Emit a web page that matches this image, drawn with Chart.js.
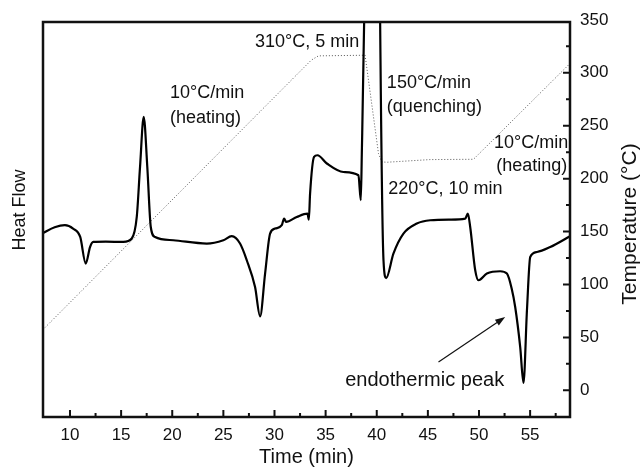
<!DOCTYPE html>
<html>
<head>
<meta charset="utf-8">
<script src="https://cdn.jsdelivr.net/npm/chart.js@4.4.1/dist/chart.umd.min.js"></script>
<style>
  html, body { margin: 0; padding: 0; background: #fff; }
  #wrap { width: 644px; height: 471px; }
</style>
</head>
<body>
<div id="wrap"><canvas id="dsc" width="644" height="471"></canvas></div>
<script>
// heat flow trace (arbitrary units, read against the temperature scale)
const hfTime = [7.36, 8.5, 9.5, 10.3, 11.0, 11.54, 11.96, 12.28, 13.5, 15.22,
  16.04, 16.53, 16.85, 17.21, 17.56, 17.90, 18.32, 20.11, 23.38, 25.0,
  25.82, 26.63, 27.29, 28.10, 28.59, 29.08, 29.57, 30.06, 30.71, 30.94,
  31.13, 32.18, 33.22, 33.36, 33.48, 33.87, 34.20, 35.12, 36.74, 38.21,
  38.44, 38.54, 38.77, 38.85, 40.28, 40.33, 40.66, 40.92, 41.63, 42.61,
  43.92, 45.23, 47.18, 48.65, 48.91, 49.14, 49.63, 49.95, 50.77, 52.07,
  52.73, 53.2, 53.54, 54.03, 54.35, 54.69, 55.01, 55.67, 56.97, 58.9];
const hfValue = [148.7, 154, 156, 152.8, 144.9, 119.8, 135.4, 140.2, 140.5, 140.2,
  143.4, 163.8, 211.1, 258.3, 211.1, 154.3, 144.9, 141.8, 138.7, 141.8,
  145.6, 138.7, 122.9, 97.6, 69.9, 110.3, 148.1, 152.8, 156, 162.3,
  159.1, 163.8, 167, 161.3, 185.9, 220.5, 222.1, 214.3, 206.3, 203.2,
  179.6, 223.7, 349.7, 420, 420, 349.7, 122.9, 106.1, 129.2, 148.1,
  157.6, 160.7, 161.3, 162.2, 167, 154.3, 113.4, 104, 110.3, 112.5,
  110.3, 96, 78.7, 40.9, 6.9, 75.6, 126, 130.7, 135.4, 145.6];

// temperature programme
const tempTime  = [7.36, 33.6, 34.3, 38.86, 40.17, 40.5, 41.0, 45.2, 49.46, 58.9];
const tempValue = [57.4, 312, 316, 316.6, 223.7, 215.8, 215.5, 218, 218.3, 308.8];

const xTicks = [10, 15, 20, 25, 30, 35, 40, 45, 50, 55];
const xMinor = [12.5, 17.5, 22.5, 27.5, 32.5, 37.5, 42.5, 47.5, 52.5, 57.5];
const tempTicks = [0, 50, 100, 150, 200, 250, 300, 350];
const tempMinor = [25, 75, 125, 175, 225, 275, 325];

const FONT = "'Liberation Sans', Arial, Helvetica, sans-serif";
const INK = '#111';

const notes = [
  { text: '310°C, 5 min', x: 28.1, t: 328.9 },
  { text: '10°C/min', x: 19.78, t: 281.2 },
  { text: '(heating)', x: 19.78, t: 257.1 },
  { text: '150°C/min', x: 40.99, t: 289.9 },
  { text: '(quenching)', x: 40.99, t: 268.1 },
  { text: '10°C/min', x: 58.73, t: 233.2, align: 'right' },
  { text: '(heating)', x: 58.63, t: 211.9, align: 'right' },
  { text: '220°C, 10 min', x: 41.12, t: 190.6 },
  { text: 'endothermic peak', x: 36.91, t: 9.5, size: 20 },
];
const arrow = { from: [46.04, 26.7], to: [52.56, 69.3] };

Chart.defaults.font.family = FONT;
Chart.defaults.color = INK;

// frame + inward ticks + vertical axis titles
const framePlugin = {
  id: 'frame',
  afterDraw(chart) {
    const { ctx, chartArea: a, scales } = chart;
    const sx = scales.x, sy = scales.y;
    ctx.save();
    ctx.strokeStyle = INK;
    ctx.lineWidth = 2;
    ctx.beginPath();
    xTicks.forEach(v => { const p = sx.getPixelForValue(v); ctx.moveTo(p, a.bottom); ctx.lineTo(p, a.bottom - 7); });
    xMinor.forEach(v => { const p = sx.getPixelForValue(v); ctx.moveTo(p, a.bottom); ctx.lineTo(p, a.bottom - 4); });
    tempTicks.forEach(v => {
      const p = sy.getPixelForValue(v);
      if (p < a.top) return;
      ctx.moveTo(a.right, p); ctx.lineTo(a.right - 7, p);
    });
    tempMinor.forEach(v => { const p = sy.getPixelForValue(v); ctx.moveTo(a.right, p); ctx.lineTo(a.right - 4, p); });
    ctx.stroke();
    ctx.lineWidth = 2.5;
    ctx.strokeRect(a.left, a.top, a.right - a.left, a.bottom - a.top);

    ctx.fillStyle = INK;
    ctx.textAlign = 'center';
    ctx.textBaseline = 'middle';
    ctx.font = '18px ' + FONT;
    ctx.translate(20, 210);
    ctx.rotate(-Math.PI / 2);
    ctx.fillText('Heat Flow', 0, 0);
    ctx.setTransform(1, 0, 0, 1, 0, 0);
    ctx.font = '21px ' + FONT;
    ctx.translate(630, 224);
    ctx.rotate(-Math.PI / 2);
    ctx.fillText('Temperature (°C)', 0, 0);
    ctx.restore();
  }
};

// text notes and arrow, placed in data coordinates
const notesPlugin = {
  id: 'notes',
  afterDraw(chart) {
    const { ctx, scales } = chart;
    const sx = scales.x, sy = scales.y;
    ctx.save();
    ctx.fillStyle = INK;
    ctx.textBaseline = 'middle';
    notes.forEach(n => {
      ctx.font = (n.size || 18) + 'px ' + FONT;
      ctx.textAlign = n.align || 'left';
      ctx.fillText(n.text, sx.getPixelForValue(n.x), sy.getPixelForValue(n.t));
    });

    const x0 = sx.getPixelForValue(arrow.from[0]), y0 = sy.getPixelForValue(arrow.from[1]);
    const x1 = sx.getPixelForValue(arrow.to[0]), y1 = sy.getPixelForValue(arrow.to[1]);
    const ang = Math.atan2(y1 - y0, x1 - x0);
    ctx.strokeStyle = INK;
    ctx.lineWidth = 1.2;
    ctx.beginPath();
    ctx.moveTo(x0, y0);
    ctx.lineTo(x1 - 8 * Math.cos(ang), y1 - 8 * Math.sin(ang));
    ctx.stroke();
    ctx.beginPath();
    ctx.moveTo(x1, y1);
    ctx.lineTo(x1 - 10 * Math.cos(ang) + 3.5 * Math.sin(ang), y1 - 10 * Math.sin(ang) - 3.5 * Math.cos(ang));
    ctx.lineTo(x1 - 10 * Math.cos(ang) - 3.5 * Math.sin(ang), y1 - 10 * Math.sin(ang) + 3.5 * Math.cos(ang));
    ctx.closePath();
    ctx.fill();
    ctx.restore();
  }
};

new Chart(document.getElementById('dsc'), {
  type: 'line',
  data: {
    datasets: [
      {
        label: 'Heat Flow',
        yAxisID: 'hf',
        data: hfTime.map((t, i) => ({ x: t, y: hfValue[i] })),
        borderColor: '#000',
        borderWidth: 2.2,
        pointRadius: 0,
        cubicInterpolationMode: 'monotone',
        fill: false
      },
      {
        label: 'Temperature',
        yAxisID: 'y',
        data: tempTime.map((t, i) => ({ x: t, y: tempValue[i] })),
        borderColor: '#555',
        borderWidth: 1,
        borderDash: [1, 2],
        pointRadius: 0,
        tension: 0,
        fill: false
      }
    ]
  },
  options: {
    responsive: false,
    animation: false,
    events: [],
    layout: { padding: { top: 22, left: 0, right: 0, bottom: 0 } },
    plugins: { legend: { display: false }, tooltip: { enabled: false } },
    scales: {
      x: {
        type: 'linear',
        position: 'bottom',
        min: 7.36,
        max: 58.9,
        afterBuildTicks: s => { s.ticks = xTicks.map(v => ({ value: v })); },
        afterFit: s => { s.height = 54; },
        grid: { display: false, drawTicks: false },
        border: { display: false },
        ticks: { padding: 8, font: { size: 17 }, color: INK, autoSkip: false, maxRotation: 0 },
        title: { display: true, text: 'Time (min)', font: { size: 20 }, color: INK, padding: { top: 0, bottom: 2 } }
      },
      hf: {
        position: 'left',
        min: -25.2,
        max: 348,
        afterFit: s => { s.width = 43; },
        grid: { display: false, drawTicks: false },
        border: { display: false },
        ticks: { display: false }
      },
      y: {
        position: 'right',
        min: -25.2,
        max: 348,
        afterBuildTicks: s => { s.ticks = tempTicks.map(v => ({ value: v })); },
        afterFit: s => { s.width = 74; },
        grid: { display: false, drawTicks: false },
        border: { display: false },
        ticks: { padding: 10, font: { size: 17 }, color: INK, autoSkip: false }
      }
    }
  },
  plugins: [framePlugin, notesPlugin]
});
</script>
</body>
</html>
